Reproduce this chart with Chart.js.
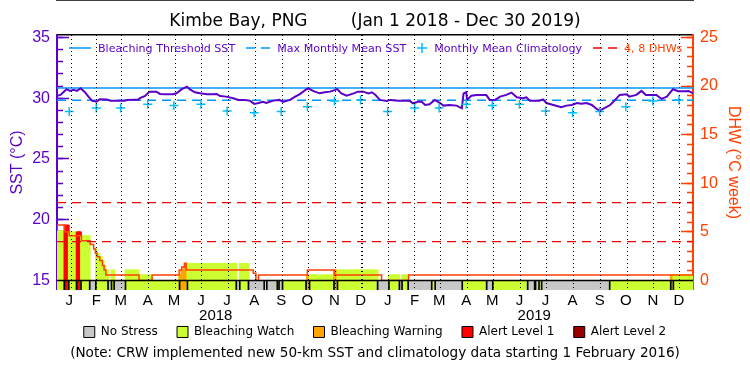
<!DOCTYPE html>
<html>
<head>
<meta charset="utf-8">
<title>Kimbe Bay, PNG</title>
<script src="https://cdn.jsdelivr.net/npm/chart.js@4.4.1/dist/chart.umd.min.js"></script>
<style>
  html, body { margin: 0; padding: 0; background: #ffffff; }
  #wrap { position: relative; width: 750px; height: 375px; }
  #topLegend {
    position: absolute; left: 69px; top: 41px; height: 14px;
    display: flex; align-items: center; white-space: nowrap;
    font-family: 'DejaVu Sans', sans-serif; font-size: 11.1px; color: #5A00C8;
  }
  #topLegend .item { display: flex; align-items: center; margin-right: 11px; }
  #topLegend svg { margin-right: 7px; }
</style>
</head>
<body>
<div id="wrap">
  <canvas id="sstChart" width="750" height="375"></canvas>
  <div id="topLegend">
    <span class="item"><svg width="22" height="10"><line x1="0" y1="5" x2="22" y2="5" stroke="#0096FF" stroke-width="1.5"/></svg>Bleaching Threshold SST</span>
    <span class="item"><svg width="24" height="10"><line x1="0" y1="5" x2="24" y2="5" stroke="#0096FF" stroke-width="1.5" stroke-dasharray="9 6"/></svg>Max Monthly Mean SST</span>
    <span class="item"><svg width="10" height="10"><path d="M0 5H10M5 0V10" stroke="#00BFFF" stroke-width="1.5" fill="none"/></svg>Monthly Mean Climatology</span>
    <span class="item" style="color:#FF4000"><svg width="24" height="10"><line x1="0" y1="5" x2="24" y2="5" stroke="#F00000" stroke-width="1.5" stroke-dasharray="9 6"/></svg>4, 8 DHWs</span>
  </div>
</div>
<script>
// x values are days counted from Jan 1 2018
const dayMax = 729;
const monthStarts = [0, 31, 59, 90, 120, 151, 181, 212, 243, 273, 304, 334,
                     365, 396, 424, 455, 485, 516, 546, 577, 608, 638, 669, 699];
const monthLetters = ['J','F','M','A','M','J','J','A','S','O','N','D',
                      'J','F','M','A','M','J','J','A','S','O','N','D'];
const yearMidDays = [182, 547];
const yearLabels = ['2018', '2019'];

// Monthly mean climatology (same each year), plotted mid-month
const climatology = [28.9, 29.2, 29.2, 29.5, 29.4, 29.5, 28.95, 28.8, 28.9, 29.3, 29.77, 29.86];
const bleachingThreshold = 30.84;
const maxMonthlyMean = 29.84;
const dhwLevels = [4, 8];

// SST (degC)
const sstDays = [0, 4, 11, 15, 19, 23, 27, 32, 36, 40, 45, 49, 57, 61, 70, 78, 80, 88, 93, 95,
  101, 106, 114, 118, 124, 133, 137, 143, 149, 152, 158, 164, 172, 179, 183, 187, 194, 202, 208, 215,
  221, 226, 231, 236, 240, 248, 255, 259, 267, 273, 278, 286, 288, 294, 301, 307, 313, 319, 321, 326,
  332, 340, 345, 351, 357, 361, 365, 370, 378, 382, 391, 404, 408, 414, 418, 422, 427, 433, 439, 443,
  450, 458, 464, 466, 469, 470, 475, 481, 492, 496, 502, 508, 515, 521, 527, 534, 538, 542, 553, 557,
  561, 569, 578, 584, 590, 596, 601, 607, 613, 619, 622, 628, 634, 639, 645, 653, 656, 664, 670, 675,
  687, 693, 699, 706, 712, 720, 724, 729];
const sstValues = [30.2, 30.27, 30.74, 30.6, 30.7, 30.6, 30.82, 30.49, 30.13, 29.8, 29.72, 29.91, 29.9, 29.8, 29.8, 29.8, 29.86, 29.88, 29.88, 30.0,
  30.18, 30.54, 30.54, 30.35, 30.32, 30.32, 30.4, 30.74, 30.95, 30.74, 30.49, 30.4, 30.32, 30.32, 30.35, 30.18, 30.13, 29.99, 29.86, 29.86,
  29.8, 29.53, 29.6, 29.7, 29.6, 29.8, 29.86, 29.7, 29.86, 30.13, 30.32, 30.74, 30.8, 30.58, 30.4, 30.49, 30.54, 30.68, 30.76, 30.4,
  30.21, 30.4, 30.54, 30.54, 30.4, 30.49, 30.27, 29.86, 29.78, 29.86, 29.8, 29.8, 29.58, 29.7, 29.7, 29.44, 29.5, 29.86, 29.6, 29.39,
  29.44, 29.39, 29.17, 30.4, 30.49, 29.88, 30.21, 30.27, 30.27, 29.86, 29.86, 30.13, 30.27, 30.46, 30.07, 29.99, 30.07, 29.8, 29.8, 29.9,
  29.6, 29.44, 29.25, 29.39, 29.44, 29.6, 29.55, 29.6, 29.44, 29.09, 28.98, 29.2, 29.44, 29.8, 30.27, 30.32, 30.13, 30.27, 30.6, 30.27,
  30.27, 29.94, 30.13, 30.74, 30.58, 30.58, 30.6, 30.4];

// Degree heating weeks: value holds from each change day onwards
const dhwDays = [0, 9, 14, 28, 38, 42, 44, 46, 49, 52, 54, 56, 94, 109, 140, 143, 146, 148,
                 225, 228, 231, 287, 318, 372, 403, 704, 729];
const dhwValues = [5.1, 5.7, 5.0, 4.6, 4.1, 3.7, 3.25, 2.8, 2.45, 2.05, 1.55, 1.08, 0.57, 0, 0.57, 1.08, 1.4, 1.77,
                   1.08, 0.74, 0, 0.57, 1.08, 0.57, 0, 0.57, 0.57];

// Stress level: 0 no stress, 1 watch, 2 warning, 3 alert 1, 4 alert 2
const stressNames = ['No Stress', 'Bleaching Watch', 'Bleaching Warning', 'Alert Level 1', 'Alert Level 2'];
const stressColors = ['#C8C8C8', '#CCFF33', '#FFA500', '#FF0000', '#990000'];
const stressStart = [0, 9, 14, 23, 28, 38, 45, 59, 63, 66, 79, 141, 150, 206, 210, 220, 238, 241, 253, 255,
  259, 286, 290, 318, 322, 368, 381, 393, 396, 403, 430, 434, 465, 493, 500, 540, 548, 549, 553, 556, 634, 704, 707];
const stressLevel = [1, 3, 1, 3, 1, 0, 1, 0, 1, 0, 1, 2, 1, 0, 1, 0, 1, 0, 1, 0,
  1, 2, 1, 2, 1, 0, 1, 0, 1, 0, 1, 0, 1, 0, 1, 0, 1, 0, 1, 0, 1, 2, 1];

const PURPLE = '#5A00C8';
const ORANGE = '#FF4000';
const BLUE = '#0096FF';
const CYAN = '#00BFFF';
const TEXT_FONT = "'DejaVu Sans', sans-serif";

// Both y axes cover the same pixels: DHW = (SST - 15) * 1.25
const sstMin = 14.22, sstMax = 35.2;
const dhwMin = (sstMin - 15) * 1.25, dhwMax = (sstMax - 15) * 1.25;

function expandSteps(starts, values, last) {
    const out = [];
    let k = 0;
    for (let d = 0; d <= last; d++) {
        while (k + 1 < starts.length && starts[k + 1] <= d) k++;
        out.push(values[k]);
    }
    return out;
}
const stressDaily = expandSteps(stressStart, stressLevel, dayMax);
const dhwDaily = expandSteps(dhwDays, dhwValues, dayMax);

function fixedWidth(w) { return scale => { scale.width = w; }; }
function fixedHeight(h) { return scale => { scale.height = h; }; }
function setTicks(values) { return scale => { scale.ticks = values.map(v => ({ value: v })); }; }
function range(a, b) { const r = []; for (let v = a; v <= b; v++) r.push(v); return r; }
function flatLine(v) { return [{ x: 0, y: v }, { x: dayMax, y: v }]; }

Chart.defaults.font.family = "'Liberation Sans', Arial, sans-serif";

const dayIndex = range(0, dayMax);

const datasets = [
    {
        type: 'line', label: 'Monthly Mean Climatology', yAxisID: 'y', order: 0,
        data: monthStarts.map((d, i) => ({ x: d + 14, y: climatology[i % 12] })),
        showLine: false, pointStyle: 'cross', pointRadius: 4.5, pointBorderWidth: 1.5,
        borderColor: CYAN, backgroundColor: CYAN
    },
    {
        type: 'line', label: 'SST', yAxisID: 'y', order: 1,
        data: sstDays.map((d, i) => ({ x: d, y: sstValues[i] })),
        borderColor: PURPLE, borderWidth: 2, pointRadius: 0
    },
    {
        type: 'line', label: 'Bleaching Threshold SST', yAxisID: 'y', order: 2,
        data: flatLine(bleachingThreshold), borderColor: BLUE, borderWidth: 1.5, pointRadius: 0
    },
    {
        type: 'line', label: 'Max Monthly Mean SST', yAxisID: 'y', order: 2,
        data: flatLine(maxMonthlyMean), borderColor: BLUE, borderWidth: 1.5, borderDash: [9, 6], pointRadius: 0
    },
    ...dhwLevels.map(v => ({
        type: 'line', label: v + ' DHWs', yAxisID: 'y2', order: 2,
        data: flatLine(v), borderColor: '#F00000', borderWidth: 1.2, borderDash: [9, 6], pointRadius: 0
    })),
    {
        // segment separators in the stress strip
        type: 'bar', label: 'strip edges', yAxisID: 'y2', order: 3, grouped: false,
        data: stressStart.slice(1).map(s => ({ x: s - 0.5, y: [dhwMin, 0] })),
        backgroundColor: '#000', borderWidth: 0, barThickness: 1
    },
    {
        type: 'line', label: 'strip top', yAxisID: 'y2', order: 3,
        data: flatLine(0), borderColor: '#000', borderWidth: 1.5, pointRadius: 0
    },
    {
        type: 'bar', label: 'stress strip', yAxisID: 'y2', order: 4, grouped: false,
        data: dayIndex.map(d => ({ x: d, y: [dhwMin, 0] })),
        backgroundColor: c => stressColors[stressDaily[c.dataIndex]],
        borderWidth: 0, barThickness: 2
    },
    {
        type: 'line', label: 'DHW', yAxisID: 'y2', order: 5,
        data: dhwDays.map((d, i) => ({ x: d, y: dhwValues[i] })),
        stepped: 'after', borderColor: ORANGE, borderWidth: 1.5, pointRadius: 0
    },
    {
        type: 'bar', label: 'DHW fill', yAxisID: 'y2', order: 6, grouped: false,
        data: dayIndex.map(d => ({ x: d, y: [0, dhwDaily[d]] })),
        backgroundColor: c => stressDaily[c.dataIndex] === 0 ? 'rgba(0,0,0,0)' : stressColors[stressDaily[c.dataIndex]],
        borderWidth: 0, barThickness: 2
    }
];

new Chart(document.getElementById('sstChart'), {
    type: 'line',
    data: { datasets: datasets },
    options: {
        responsive: false,
        animation: false,
        devicePixelRatio: 1,
        layout: { padding: { left: 0, right: 0, top: 0, bottom: 12.9 } },
        plugins: {
            title: {
                display: true,
                text: 'Kimbe Bay, PNG        (Jan 1 2018 - Dec 30 2019)',
                color: '#000', font: { family: TEXT_FONT, size: 17, weight: 'normal' },
                padding: { top: 11.3, bottom: 0 }
            },
            subtitle: {
                display: true, position: 'bottom',
                text: '(Note: CRW implemented new 50-km SST and climatology data starting 1 February 2016)',
                color: '#000', font: { family: TEXT_FONT, size: 13.6 },
                padding: { top: -2.2, bottom: 0 }
            },
            legend: {
                position: 'bottom',
                onClick: null,
                labels: {
                    boxWidth: 11, boxHeight: 11, padding: 4, color: '#000',
                    font: { family: TEXT_FONT, size: 12 },
                    // trailing spaces widen the gap between items without adding vertical padding
                    generateLabels: () => stressNames.map((t, i) => ({
                        text: i < stressNames.length - 1 ? t + '    ' : t,
                        fillStyle: stressColors[i], strokeStyle: '#000', lineWidth: 1,
                        hidden: false, fontColor: '#000'
                    }))
                }
            },
            tooltip: { enabled: false }
        },
        scales: {
            x: {
                type: 'linear', position: 'bottom', weight: 1, min: 0, max: dayMax, offset: false,
                afterBuildTicks: setTicks(monthStarts.slice(1)),
                ticks: { display: false },
                grid: {
                    color: '#000', drawTicks: false, z: 1,
                    lineWidth: c => (c.tick && c.tick.value === 365 ? 2 : 1)
                },
                border: { color: '#000', width: 1.5, dash: [1, 3] }
            },
            xm: {
                type: 'linear', position: 'bottom', weight: 2, min: 0, max: dayMax, offset: false,
                afterBuildTicks: setTicks(monthStarts.map(d => d + 14)),
                afterFit: fixedHeight(17),
                ticks: {
                    autoSkip: false, maxRotation: 0, padding: 2, color: '#000', font: { size: 15 },
                    callback: (v, i) => monthLetters[i]
                },
                grid: { display: false, drawTicks: false },
                border: { display: false }
            },
            xy: {
                type: 'linear', position: 'bottom', weight: 3, min: 0, max: dayMax, offset: false,
                afterBuildTicks: setTicks(yearMidDays),
                afterFit: fixedHeight(15),
                ticks: {
                    autoSkip: false, maxRotation: 0, padding: 0, color: '#000', font: { size: 15 },
                    callback: (v, i) => yearLabels[i]
                },
                grid: { display: false, drawTicks: false },
                border: { display: false }
            },
            xt: {
                type: 'linear', position: 'top', weight: 1, min: 0, max: dayMax,
                afterFit: fixedHeight(3.3),
                ticks: { display: false },
                grid: { drawOnChartArea: false, drawTicks: false },
                border: { color: '#000', width: 1.5 }
            },
            yMaj: {
                type: 'linear', position: 'left', weight: 2, min: sstMin, max: sstMax,
                afterBuildTicks: setTicks([15, 20, 25, 30, 35]),
                afterFit: fixedWidth(57),
                ticks: { color: PURPLE, padding: 19, font: { size: 16 } },
                grid: { drawOnChartArea: false, tickLength: -12, tickColor: PURPLE, tickWidth: 1.5 },
                border: { display: false },
                title: {
                    display: true, text: 'SST (°C)', color: PURPLE, font: { size: 16 },
                    padding: { top: 8, bottom: 0 }
                }
            },
            y: {
                type: 'linear', position: 'left', weight: 1, min: sstMin, max: sstMax,
                afterBuildTicks: setTicks(range(15, 35)),
                afterFit: fixedWidth(0),
                ticks: { display: false },
                grid: { drawOnChartArea: false, tickLength: -6, tickColor: PURPLE, tickWidth: 1.5 },
                border: { color: PURPLE, width: 2 }
            },
            y2: {
                type: 'linear', position: 'right', weight: 1, min: dhwMin, max: dhwMax,
                afterBuildTicks: setTicks(range(0, 25)),
                afterFit: fixedWidth(0),
                ticks: { display: false },
                grid: { drawOnChartArea: false, tickLength: -6, tickColor: ORANGE, tickWidth: 1.5 },
                border: { color: ORANGE, width: 2 }
            },
            y2Maj: {
                type: 'linear', position: 'right', weight: 2, min: dhwMin, max: dhwMax,
                afterBuildTicks: setTicks([0, 5, 10, 15, 20, 25]),
                afterFit: fixedWidth(57),
                ticks: { color: ORANGE, padding: 19, font: { size: 16 } },
                grid: { drawOnChartArea: false, tickLength: -12, tickColor: ORANGE, tickWidth: 1.5 },
                border: { display: false },
                title: {
                    display: true, text: 'DHW (°C week)', color: ORANGE, font: { size: 16 },
                    padding: { top: 7, bottom: 0 }
                }
            }
        }
    }
});
</script>
</body>
</html>
